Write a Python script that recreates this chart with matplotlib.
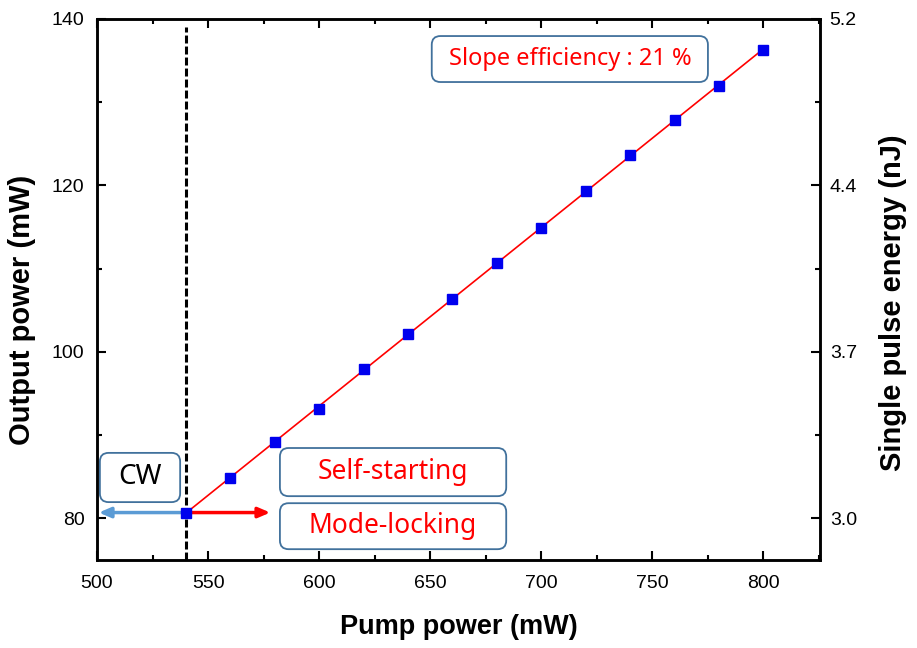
import numpy as np
import matplotlib
matplotlib.use("Agg")
import matplotlib.pyplot as plt
from matplotlib.patches import FancyBboxPatch
from matplotlib.ticker import MultipleLocator

# data
pump = [540, 560, 580, 600, 620, 640, 660, 680, 700, 720, 740, 760, 780, 800]
output = [80.7, 84.9, 89.2, 93.2, 97.9, 102.2, 106.3, 110.7, 114.9, 119.3,
          123.7, 127.9, 132.0, 136.3]
threshold = 540
right_ticks = [80, 100, 120, 140]
right_labels = ['3.0', '3.7', '4.4', '5.2']

plt.rcParams['font.family'] = ['Liberation Sans', 'DejaVu Sans']

fig = plt.figure(figsize=(9.17, 6.48), dpi=100)
ax = fig.add_axes([97/917, 1-560/648, 723/917, 541/648])

# linear fit for slope efficiency
fit = np.polyfit(pump, output, 1)
xf = np.array([pump[0], pump[-1]])
ax.plot(xf, np.polyval(fit, xf), color='red', lw=1.2, zorder=3)
ax.plot(pump, output, 's', color='#0000ee', ms=7, zorder=4)

ax.axvline(threshold, ymax=0.985, color='black', ls='--', lw=2.2, dashes=(2.6, 1.0), zorder=2)

# arrows
ax.annotate('', xy=(500.8, output[0]), xytext=(threshold, output[0]),
            arrowprops=dict(arrowstyle='-|>,head_length=0.7,head_width=0.3',
                            color='#5b9bd5', lw=2.5, shrinkA=0, shrinkB=0), zorder=3)
ax.annotate('', xy=(578, output[0]), xytext=(threshold, output[0]),
            arrowprops=dict(arrowstyle='-|>,head_length=0.7,head_width=0.3',
                            color='red', lw=2.5, shrinkA=0, shrinkB=0), zorder=3)

ax.set_xlim(500, 825.5)
ax.set_ylim(75, 140)
ax.xaxis.set_major_locator(MultipleLocator(50))
ax.xaxis.set_minor_locator(MultipleLocator(25))
ax.yaxis.set_major_locator(MultipleLocator(20))
ax.yaxis.set_minor_locator(MultipleLocator(10))
ax.tick_params(which='both', direction='in', top=True, width=1.5, labelsize=14)
ax.tick_params(which='major', length=6.5)
ax.tick_params(which='minor', length=3.5)
ax.tick_params(axis='x', pad=11)
ax.tick_params(axis='y', pad=9)
for s in ax.spines.values():
    s.set_linewidth(1.8)

ax.set_xlabel('Pump power (mW)', fontsize=19.5, fontweight='bold', va='center', ha='center')
ax.xaxis.set_label_coords(0.5, -0.124)
ax.set_ylabel('Output power (mW)', fontsize=21, fontweight='bold', va='center', ha='center')
ax.yaxis.set_label_coords(-0.104, 0.462)

ax2 = ax.twinx()
ax2.set_ylim(ax.get_ylim())
ax2.set_yticks(right_ticks)
ax2.set_yticklabels(right_labels)
ax2.yaxis.set_minor_locator(MultipleLocator(10))
ax2.tick_params(which='both', direction='in', width=1.5, labelsize=14, pad=7)
ax2.tick_params(which='major', length=6.5)
ax2.tick_params(which='minor', length=3.5)
ax2.set_ylabel('Single pulse energy (nJ)', fontsize=21, fontweight='bold', va='center', ha='center')
ax2.yaxis.set_label_coords(1.101, 0.475)
for s in ax2.spines.values():
    s.set_linewidth(1.8)

# text boxes (axes fraction)
asp = 723 / 541
boxes = [
    (0.004, 0.107, 0.111, 0.091, 'CW', 'black', 20),
    (0.253, 0.118, 0.313, 0.089, 'Self-starting', 'red', 19),
    (0.253, 0.020, 0.313, 0.085, 'Mode-locking', 'red', 19),
    (0.463, 0.8835, 0.382, 0.085, 'Slope efficiency : 21 %', 'red', 17),
]
for x0, y0, w, h, txt, col, fs in boxes:
    p = FancyBboxPatch((x0, y0), w, h, boxstyle='round,pad=0,rounding_size=0.012',
                       mutation_aspect=asp, transform=ax.transAxes, fc='white',
                       ec='#41719c', lw=1.3, zorder=5)
    ax.add_patch(p)
    ax.text(x0 + w/2, y0 + h/2, txt, transform=ax.transAxes, ha='center', va='center',
            color=col, fontsize=fs, family=['Noto Sans', 'DejaVu Sans'], zorder=6)

fig.savefig('out.png', dpi=100)
